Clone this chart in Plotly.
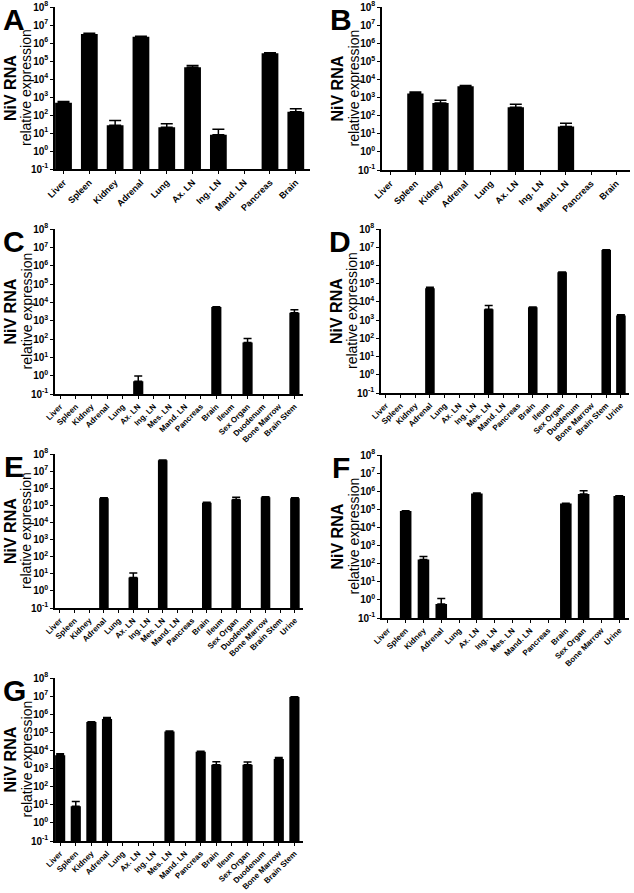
import plotly.graph_objects as go

W, H = 634, 893

# ---------------- data ----------------
cats_A = ["Liver", "Spleen", "Kidney", "Adrenal", "Lung", "Ax. LN", "Ing. LN", "Mand. LN", "Pancreas", "Brain"]
vals_A = [480, 3.2e6, 27, 2.2e6, 21, 4.5e4, 8, None, 2.7e5, 150]
errs_A = [80, 3e5, 22, 2e5, 12, 1.2e4, 8, None, 2e4, 70]

cats_B = ["Liver", "Spleen", "Kidney", "Adrenal", "Lung", "Ax. LN", "Ing. LN", "Mand. LN", "Pancreas", "Brain"]
vals_B = [None, 1700, 500, 4200, None, 290, None, 25, None, None]
errs_B = [None, 300, 200, 400, None, 140, None, 13, None, None]

cats_C = ["Liver", "Spleen", "Kidney", "Adrenal", "Lung", "Ax. LN", "Ing. LN", "Mes. LN", "Mand. LN",
          "Pancreas", "Brain", "Ileum", "Sex Organ", "Duodenum", "Bone Marrow", "Brain Stem"]
vals_C = [None, None, None, None, None, 0.5, None, None, None, None, 5500, None, 65, None, None, 2700]
errs_C = [None, None, None, None, None, 0.45, None, None, None, None, 300, None, 40, None, None, 1200]

cats_D = ["Liver", "Spleen", "Kidney", "Adrenal", "Lung", "Ax. LN", "Ing. LN", "Mes. LN", "Mand. LN",
          "Pancreas", "Brain", "Ileum", "Sex Organ", "Duodenum", "Bone Marrow", "Brain Stem", "Urine"]
vals_D = [None, None, None, 5.6e4, None, None, None, 4000, None, None, 5000, None, 4.2e5, None, None, 7e6, 1800]
errs_D = [None, None, None, 8e3, None, None, None, 2400, None, None, 300, None, 2e4, None, None, 3e5, 150]

cats_E = ["Liver", "Spleen", "Kidney", "Adrenal", "Lung", "Ax. LN", "Ing. LN", "Mes. LN", "Mand. LN",
          "Pancreas", "Brain", "Ileum", "Sex Organ", "Duodenum", "Bone Marrow", "Brain Stem", "Urine"]
vals_E = [None, None, None, 2.6e5, None, 6, None, 4.3e7, None, None, 1.4e5, None, 2.2e5, None, 3e5, None, 2.6e5]
errs_E = [None, None, None, 2e4, None, 5, None, 2e6, None, None, 1e4, None, 8e4, None, 2e4, None, 2e4]

cats_F = ["Liver", "Spleen", "Kidney", "Adrenal", "Lung", "Ax. LN", "Ing. LN", "Mes. LN", "Mand. LN",
          "Pancreas", "Brain", "Sex Organ", "Bone Marrow", "Urine"]
vals_F = [None, 8e4, 170, 0.6, None, 7.5e5, None, None, None, None, 2.1e5, 7e5, None, 5.4e5]
errs_F = [None, 4e3, 80, 0.6, None, 4e4, None, None, None, None, 1e4, 3.5e5, None, 3e4]

cats_G = ["Liver", "Spleen", "Kidney", "Adrenal", "Lung", "Ax. LN", "Ing. LN", "Mes. LN", "Mand. LN",
          "Pancreas", "Brain", "Ileum", "Sex Organ", "Duodenum", "Bone Marrow", "Brain Stem"]
vals_G = [5.5e3, 8.3, 3.7e5, 5.5e5, None, None, None, 1.1e5, None, 8.5e3, 1.6e3, None, 1.6e3, None, 3.4e3, 9e6]
errs_G = [1e3, 7, 2e4, 1e5, None, None, None, 1e4, None, 5e2, 8e2, None, 7e2, None, 7e2, 3e5]

ytick_vals = [0.1, 1, 10, 100, 1e3, 1e4, 1e5, 1e6, 1e7, 1e8]
ytick_text = ["<b>10<sup>-1</sup></b>", "<b>10<sup>0</sup></b>", "<b>10<sup>1</sup></b>",
              "<b>10<sup>2</sup></b>", "<b>10<sup>3</sup></b>", "<b>10<sup>4</sup></b>",
              "<b>10<sup>5</sup></b>", "<b>10<sup>6</sup></b>", "<b>10<sup>7</sup></b>",
              "<b>10<sup>8</sup></b>"]

# ---------------- layout of panels (pixel boxes) ----------------
panels = [
    # letter, cats, vals, errs, x0, x1, y0(top), y1(bottom), xfont, capw
    ("A", cats_A, vals_A, errs_A, 55, 310, 7, 169, 9, 6),
    ("B", cats_B, vals_B, errs_B, 382, 630, 7, 170, 9, 6),
    ("C", cats_C, vals_C, errs_C, 55, 303, 229, 394, 8, 4),
    ("D", cats_D, vals_D, errs_D, 381, 629, 229, 393, 8, 4),
    ("E", cats_E, vals_E, errs_E, 55, 303, 454, 608, 8, 4),
    ("F", cats_F, vals_F, errs_F, 382, 629, 455, 618, 8, 4),
    ("G", cats_G, vals_G, errs_G, 55, 303, 678, 841, 8, 4),
]

FONT = "Liberation Sans, Arial, sans-serif"

fig = go.Figure()
annotations = []
layout_axes = {}

for i, (letter, cats, vals, errs, x0, x1, y0, y1, xfs, capw) in enumerate(panels):
    n = i + 1
    xa = "x" if n == 1 else f"x{n}"
    ya = "y" if n == 1 else f"y{n}"
    xkey = "xaxis" if n == 1 else f"xaxis{n}"
    ykey = "yaxis" if n == 1 else f"yaxis{n}"

    fig.add_trace(go.Bar(
        x=cats, y=vals, xaxis=xa, yaxis=ya,
        width=0.65,
        marker=dict(color="black", line=dict(width=0)),
        error_y=dict(type="data", array=errs, arrayminus=[0] * len(errs), symmetric=False,
                     color="black", thickness=1.5, width=capw),
        showlegend=False, hoverinfo="skip",
    ))

    layout_axes[xkey] = dict(
        domain=[x0 / W, x1 / W], anchor=ya,
        type="category", categoryorder="array", categoryarray=cats,
        range=[-0.33, len(cats) - 0.45],
        showline=True, linecolor="black", linewidth=1.5,
        ticks="outside", ticklen=3, tickwidth=1, tickcolor="black",
        tickangle=-45, tickfont=dict(family=FONT, size=xfs, color="black"),
        tickvals=cats, ticktext=[f"<b>{c}</b>" for c in cats],
        showgrid=False, zeroline=False, automargin=False, fixedrange=True,
    )
    layout_axes[ykey] = dict(
        domain=[1 - y1 / H, 1 - y0 / H], anchor=xa,
        type="log", range=[-1, 8],
        tickvals=ytick_vals, ticktext=ytick_text,
        tickfont=dict(family=FONT, size=10, color="black"),
        ticklabeloverflow="allow",
        showline=True, linecolor="black", linewidth=1.5,
        ticks="outside", ticklen=3, tickwidth=1, tickcolor="black",
        showgrid=False, zeroline=False, automargin=False, fixedrange=True,
    )

    yc = 1 - ((y0 + y1) / 2) / H
    # panel letter
    annotations.append(dict(
        text=f"<b>{letter}</b>", xref="paper", yref="paper",
        x=(x0 - 41) / W, y=1 - (max(y0, 5) + 12) / H, xanchor="center", yanchor="middle",
        showarrow=False, font=dict(family=FONT, size=30, color="black"),
    ))
    # y title, two lines
    annotations.append(dict(
        text="<b>NiV RNA</b>", xref="paper", yref="paper",
        x=(x0 - 45) / W, y=yc, xanchor="center", yanchor="middle",
        textangle=-90, showarrow=False,
        font=dict(family=FONT, size=16, color="black"),
    ))
    annotations.append(dict(
        text="relative expression", xref="paper", yref="paper",
        x=(x0 - 29) / W, y=yc, xanchor="center", yanchor="middle",
        textangle=-90, showarrow=False,
        font=dict(family=FONT, size=14, color="black"),
    ))

fig.update_layout(
    width=W, height=H,
    margin=dict(l=0, r=0, t=0, b=0),
    paper_bgcolor="white", plot_bgcolor="white",
    template="none", showlegend=False,
    annotations=annotations,
    bargap=0.35,
    **layout_axes,
)

fig.write_html("out.html", config={"displayModeBar": False},
               post_script="document.body.style.margin='0';document.body.style.overflow='hidden';")
